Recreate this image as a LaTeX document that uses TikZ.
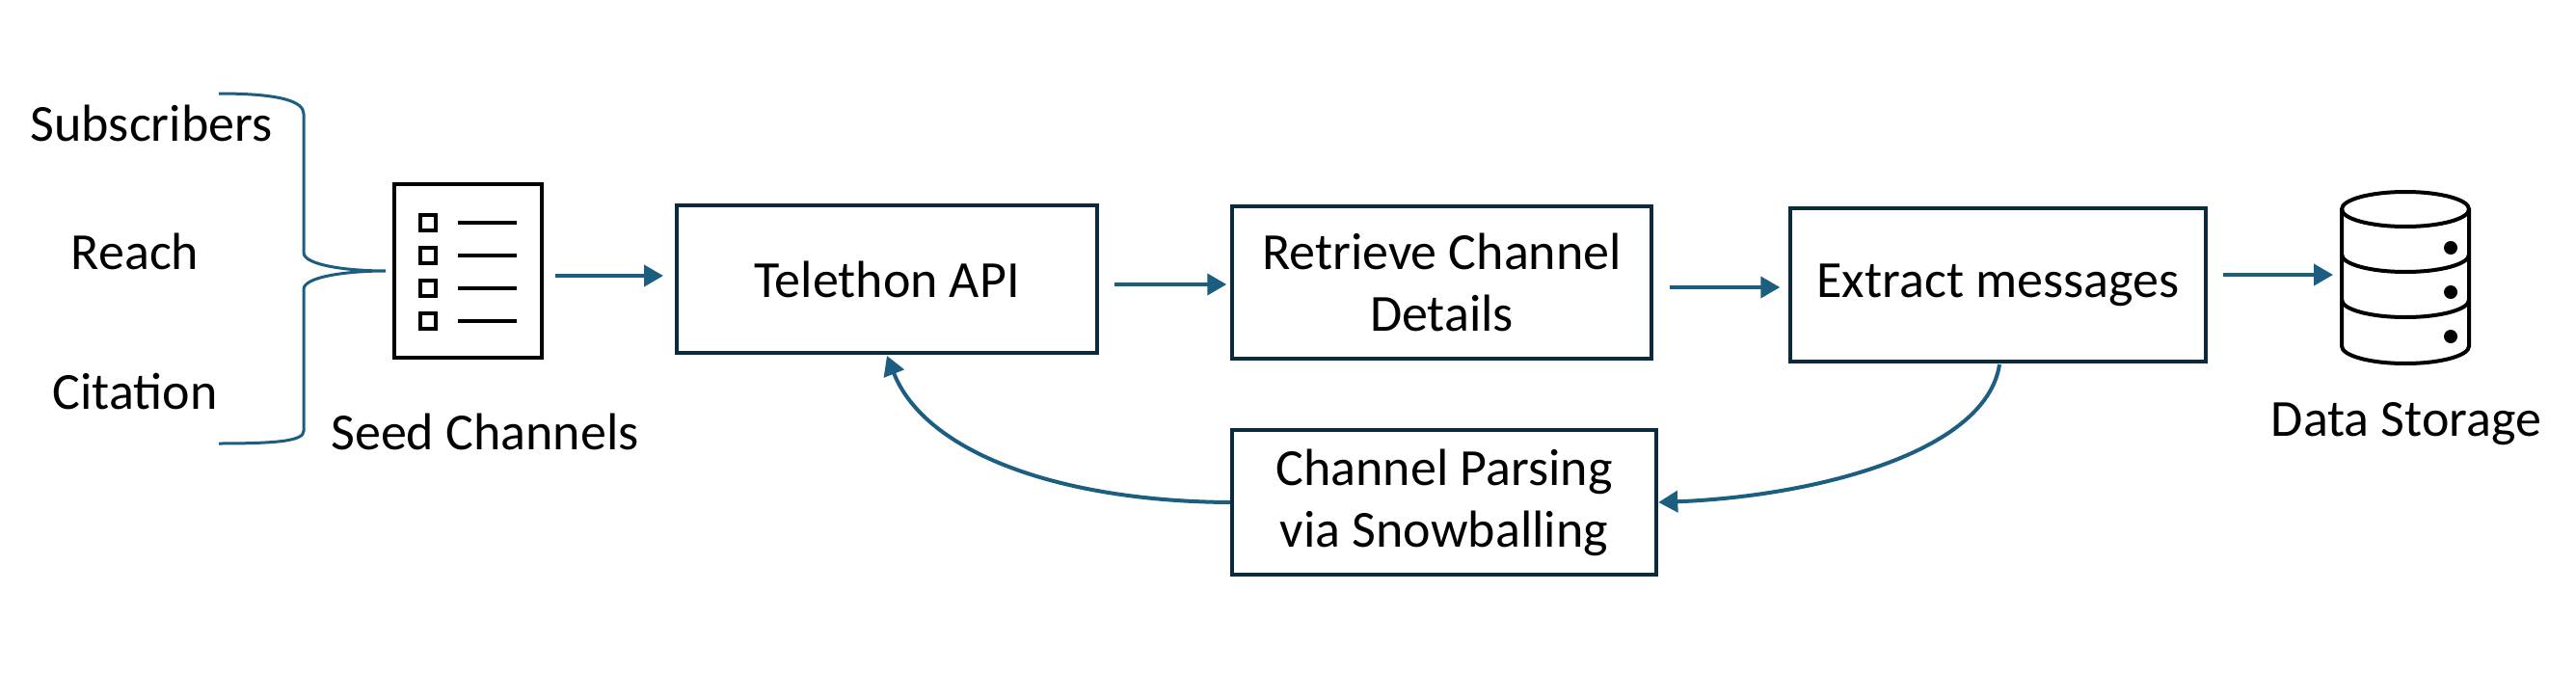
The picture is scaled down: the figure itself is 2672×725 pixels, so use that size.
\documentclass[tikz,border=0pt]{standalone}
\usepackage{fontspec}
\setmainfont{Carlito}
\usetikzlibrary{arrows.meta}
\definecolor{arr}{HTML}{1B5E80}
\definecolor{bx}{HTML}{0B2A3C}
\begin{document}
\begin{tikzpicture}[x=1pt,y=-1pt,
  lbl/.style={font=\fontsize{54}{64}\selectfont,align=center},
  box/.style={draw=bx,line width=4.5pt,minimum width=#1},
  ar/.style={draw=arr,line width=4pt,-{Triangle[length=20pt,width=22pt]}},
  ic/.style={line width=4pt,black}]
\useasboundingbox (0,0) rectangle (2672,725);
\node[lbl] (s) at (157,128) {Subscribers};
\node[lbl] (r) at (140,261) {Reach};
\node[lbl] (c) at (140,406) {Citation};
\draw[arr,line width=3pt] (227,97) .. controls (290,97) and (315,105) .. (315,118) -- (315,262) .. controls (315,275) and (360,281) .. (400,281)
  (400,281) .. controls (360,281) and (315,287) .. (315,300) -- (315,447) .. controls (315,457) and (290,460) .. (227,460);
% doc icon
\node[draw,ic,minimum width=153pt,minimum height=180pt,inner sep=0pt] (doc) at (485.5,281) {};
\foreach \y in {231,265,299,333}{
  \draw[ic,line width=3.5pt] (436,\y-8) rectangle (452,\y+8);
  \draw[ic] (475,\y) -- (536,\y);}
\node[lbl] (seed) at (503,448) {Seed Channels};
\node[box=436pt,minimum height=153pt] (tel) at (920,289.5) {};
\node[lbl] at (tel) {Telethon API};
\node[box=435pt,minimum height=158pt,lbl] (ret) at (1495.5,293) {Retrieve Channel\\Details};
\node[box=431pt,minimum height=159pt] (ext) at (2072.5,295.5) {};
\node[lbl] at (ext) {Extract messages};
\node[box=440pt,minimum height=150pt,lbl] (par) at (1498,521) {Channel Parsing\\via Snowballing};
% database
\begin{scope}[ic]
\draw (2495,217) ellipse [x radius=66,y radius=18];
\draw (2429,217) -- (2429,359) arc[start angle=180,end angle=0,x radius=66,y radius=18] -- (2561,217);
\draw (2429,264) arc[start angle=180,end angle=0,x radius=66,y radius=18];
\draw (2429,311) arc[start angle=180,end angle=0,x radius=66,y radius=18];
\foreach \y in {257,303,349} \fill (2542,\y) circle (7);
\coordinate (db) at (2420,285);
\end{scope}
\node[lbl] (ds) at (2496,440) {Data Storage};
\coordinate (a1) at (576,286);
\draw[ar] (a1) -- (688,286);
\draw[ar] (tel.east |- 0,295) ++(16,0) -- ++(116,0);
\draw[ar] (ret.east |- 0,298) ++(17,0) -- ++(114,0);
\draw[ar] (ext.east |- 0,285) ++(16,0) -- (db);
\draw[ar] (2074,378) .. controls (2060,470) and (1880,515) .. (par.east);
\draw[ar] (par.west) .. controls (1100,520) and (960,470) .. (920,369);
\end{tikzpicture}
\end{document}
